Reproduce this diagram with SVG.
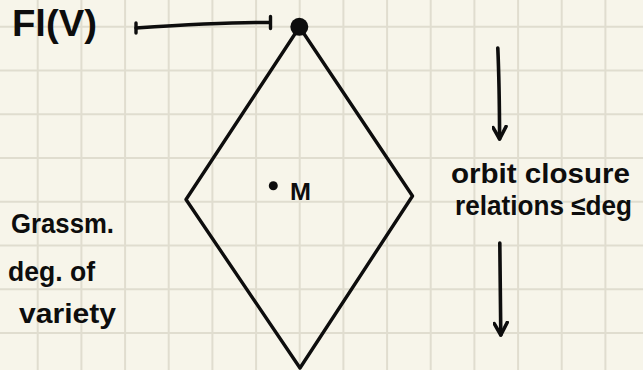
<svg xmlns="http://www.w3.org/2000/svg" width="643" height="370" viewBox="0 0 643 370">
<style>
  .grid { stroke: #e0ddcf; stroke-width: 2; fill: none; }
  .ink { stroke: #0d0d0d; stroke-width: 3.4; fill: none; stroke-linecap: round; stroke-linejoin: round; }
  .arrow { stroke: #0d0d0d; stroke-width: 3.6; fill: none; stroke-linecap: round; stroke-linejoin: round; }
  .hand { font-family: "Liberation Sans", "DejaVu Sans", sans-serif; font-weight: bold; fill: #0d0d0d; }
</style>
<defs>
  <marker id="head" viewBox="0 0 16 16" refX="14" refY="8" markerWidth="16" markerHeight="16" markerUnits="userSpaceOnUse" orient="auto">
    <path d="M1.5 1.5 L14 8 L2.5 14.5" fill="none" stroke="#0d0d0d" stroke-width="3.6" stroke-linecap="round" stroke-linejoin="round"/>
  </marker>
</defs>
<rect width="643" height="370" fill="#f7f5ea"/>
<g id="grid" class="grid">
  <path d="M37.7 0V370M81.4 0V370M125.1 0V370M168.7 0V370M212.4 0V370M256.1 0V370M299.7 0V370M343.4 0V370M387.1 0V370M430.7 0V370M474.4 0V370M518.1 0V370M561.7 0V370M605.4 0V370"/>
  <path d="M0 26.7H643M0 70.4H643M0 114.2H643M0 157.9H643M0 201.7H643M0 245.4H643M0 289.2H643M0 332.9H643"/>
</g>
<g id="diamond">
  <path class="ink" d="M299.5 27 L186 199.5 L300 368 L412.5 196 Z"/>
</g>
<g id="top-point">
  <circle cx="299.3" cy="26.8" r="9" fill="#0d0d0d"/>
</g>
<g id="point-M">
  <circle cx="273.3" cy="185.8" r="4.5" fill="#0d0d0d"/>
  <text class="hand" x="290" y="199.5" font-size="24" textLength="21" lengthAdjust="spacingAndGlyphs">M</text>
</g>
<g id="label-fl">
  <text class="hand" x="12" y="36" font-size="36" textLength="85" lengthAdjust="spacingAndGlyphs">Fl(V)</text>
</g>
<g id="label-orbit">
  <text class="hand" x="451" y="183" font-size="27" textLength="179" lengthAdjust="spacingAndGlyphs">orbit closure</text>
  <text class="hand" x="455" y="215" font-size="27" textLength="177" lengthAdjust="spacingAndGlyphs">relations ≤deg</text>
</g>
<g id="label-grassm">
  <text class="hand" x="11" y="233" font-size="28" textLength="103" lengthAdjust="spacingAndGlyphs">Grassm.</text>
  <text class="hand" x="8" y="281" font-size="28" textLength="87" lengthAdjust="spacingAndGlyphs">deg. of</text>
  <text class="hand" x="19" y="323" font-size="28" textLength="97" lengthAdjust="spacingAndGlyphs">variety</text>
</g>
<g id="connectors">
  <path class="ink" d="M136 28 C180 25 230 22 270 22.5"/>
  <path class="ink" d="M136 23 V33 M270.5 16.5 V28.5"/>
  <path class="arrow" d="M497.8 48 C499 75 499.5 110 499.6 139" marker-end="url(#head)"/>
  <path class="arrow" d="M499.8 243 C500.3 275 500.6 305 500.8 335" marker-end="url(#head)"/>
</g>
</svg>
